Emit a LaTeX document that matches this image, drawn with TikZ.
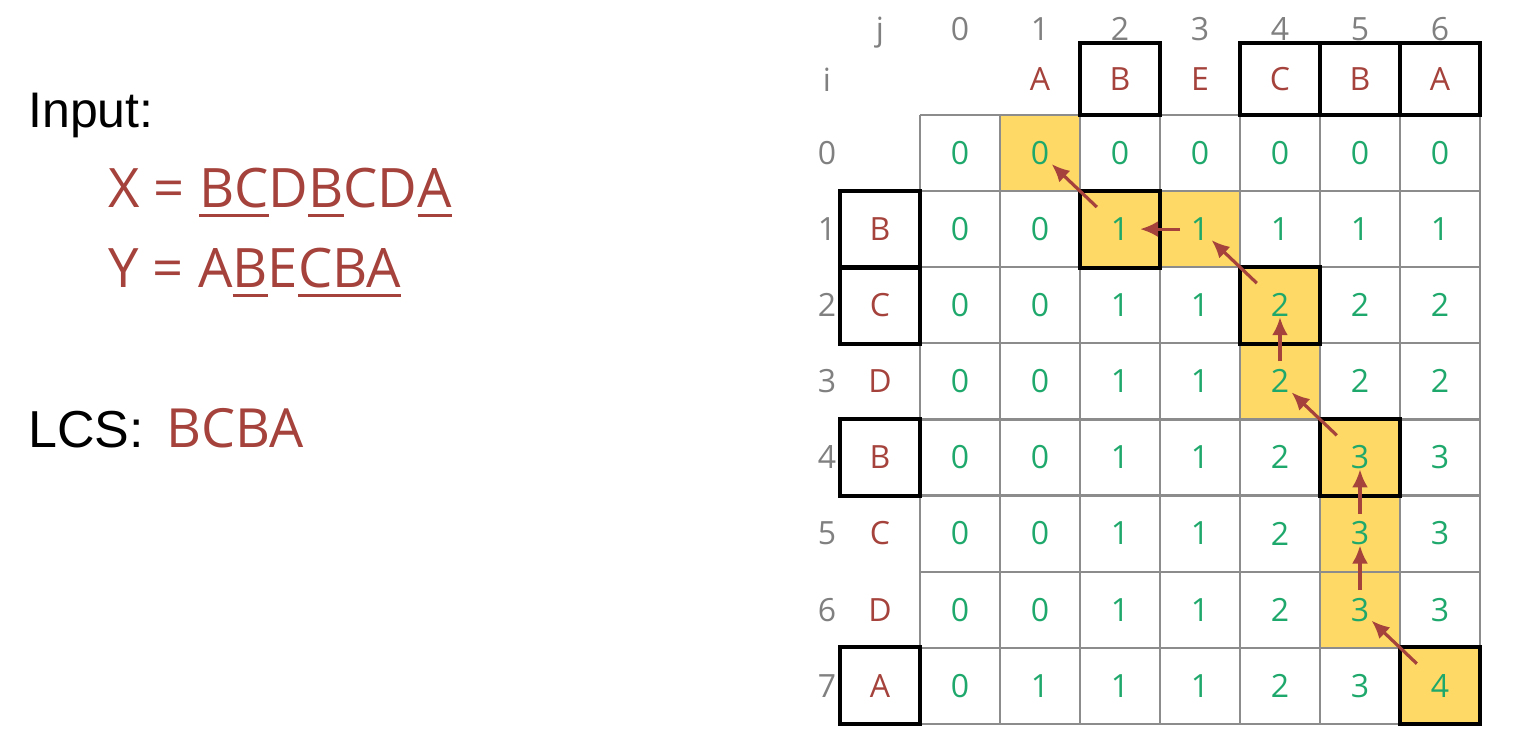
\documentclass[tikz,border=0pt]{standalone}
\usepackage{fontspec}
\setmainfont{Open Sans}
\newfontfamily\arialfont{Liberation Sans}
\usetikzlibrary{arrows.meta}
\definecolor{lcsred}{HTML}{A4423B}
\definecolor{lcsgreen}{HTML}{1FA86B}
\definecolor{lcsyellow}{HTML}{FFD966}
\definecolor{gridgray}{HTML}{8C8C8C}
\definecolor{idxgray}{HTML}{808080}
\newcommand\lcsmark[1]{\setbox0\hbox{#1}\rlap{\rule[-5pt]{\wd0}{1.4pt}}\box0}

\begin{document}
\begin{tikzpicture}[x=0.5pt,y=-0.5pt,
  cell/.style={minimum width=40pt,minimum height=38.05pt,inner sep=0pt,text=lcsgreen,font=\fontsize{16}{19}\selectfont},
  head/.style={minimum width=40pt,minimum height=36pt,inner sep=0pt,text=lcsred,font=\fontsize{16}{19}\selectfont},
  rowhead/.style={head,minimum height=38.05pt},
  idx/.style={inner sep=0pt,text=idxgray,font=\fontsize{16}{19}\selectfont},
  gridline/.style={draw=gridgray,line width=1.1pt},
  pathbox/.style={draw=black,line width=2pt},
  trace/.style={draw=lcsred,line width=1.6pt,-{Latex[length=9pt,width=8pt]}},
  words/.style={anchor=base west,inner sep=0pt}]
\useasboundingbox (0,0) rectangle (1520,751);

% left side
\node[words,font=\arialfont\fontsize{25}{30}\selectfont] (input) at (28,127) {Input:};
\node[words,text=lcsred,font=\fontsize{27.2}{32}\selectfont] (xseq) at (108,207) {X = \lcsmark{BC}D\lcsmark{B}CD\lcsmark{A}};
\node[words,text=lcsred,font=\fontsize{27.2}{32}\selectfont] (yseq) at (108,287) {Y = A\lcsmark{B}E\lcsmark{CBA}};
\node[words,font=\arialfont\fontsize{26}{31}\selectfont] (lcs) at (28,447) {LCS:};
\node[words,text=lcsred,font=\fontsize{27}{32}\selectfont] (lcsval) at (166,447) {BCBA};

% table
\foreach \i/\j in {0/1,1/2,1/3,2/4,3/4,4/5,5/5,6/5,7/6}
  \fill[lcsyellow] ({920+80*\j},{115+76.1*\i}) rectangle +(80,76.1);
\foreach \i in {0,...,8}
  \draw[gridline] (920,{115+76.1*\i}) -- (1480,{115+76.1*\i});
\foreach \j in {0,...,7}
  \draw[gridline] ({920+80*\j},115) -- ({920+80*\j},{115+76.1*8});

\foreach \row [count=\i from 0] in {{0,0,0,0,0,0,0},{0,0,1,1,1,1,1},{0,0,1,1,2,2,2},{0,0,1,1,2,2,2},
    {0,0,1,1,2,3,3},{0,0,1,1,2,3,3},{0,0,1,1,2,3,3},{0,1,1,1,2,3,4}}
  \foreach \v [count=\j from 0] in \row
    \node[cell] (c-\i-\j) at ({960+80*\j},{153+76.1*\i}) {\v};

\foreach \l [count=\j] in {A,B,E,C,B,A}
  \node[head] (y-\j) at ({960+80*\j},79) {\l};
\foreach \l [count=\i] in {B,C,D,B,C,D,A}
  \node[rowhead] (x-\i) at (880,{153+76.1*\i}) {\l};

\node[idx,anchor=base] (j-lab) at (880,40) {j};
\foreach \j in {0,...,6}
  \node[idx,anchor=base] (j-\j) at ({960+80*\j},40) {\j};
\node[idx,anchor=base] (i-lab) at (827,91) {i};
\foreach \i in {0,...,7}
  \node[idx] (i-\i) at (827,{153+76.1*\i}) {\i};

\foreach \n in {y-2,y-4,y-5,y-6,x-1,x-2,x-4,x-7,c-1-2,c-2-4,c-4-5,c-7-6}
  \draw[pathbox] (\n.north west) rectangle (\n.south east);

% traceback
\foreach \a/\b in {c-1-2/c-0-1,c-2-4/c-1-3,c-4-5/c-3-4,c-7-6/c-6-5}
  \draw[trace,shorten <=16pt,shorten >=8pt] (\a.center) -- (\b.center);
\draw[trace,shorten <=10pt,shorten >=10pt] (c-1-3.center) -- (c-1-2.center);
\foreach \a/\b in {c-3-4/c-2-4,c-5-5/c-4-5,c-6-5/c-5-5}
  \draw[trace,shorten <=10pt,shorten >=6pt] (\a.center) -- (\b.center);
\end{tikzpicture}
\end{document}
